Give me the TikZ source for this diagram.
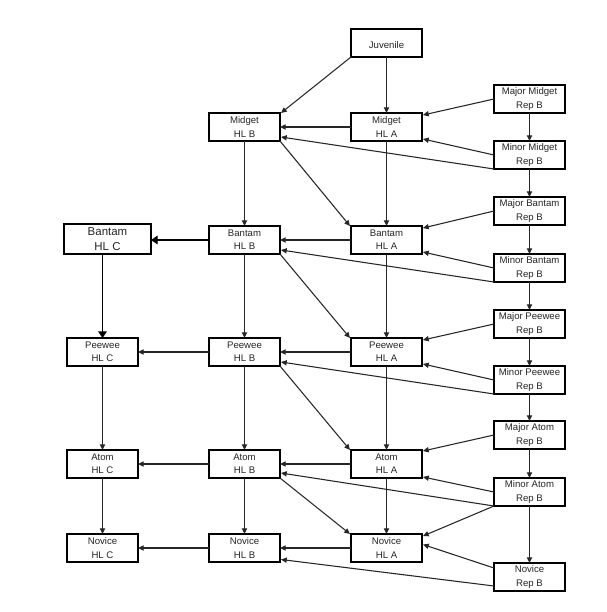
\documentclass[tikz,border=0pt]{standalone}
\usepackage{fontspec}
\setmainfont{Liberation Sans}
\usetikzlibrary{arrows.meta,calc}
\begin{document}
\begin{tikzpicture}[x=0.75pt,y=-0.75pt,
  box/.style={draw=black,line width=1.5pt,fill=white,minimum width=53.25pt,minimum height=21pt,
    inner sep=0pt,outer sep=0pt,align=center,text=black!85,font=\fontsize{7.2}{10}\selectfont,
    execute at begin node={\rule{0pt}{8.2pt}}},
  bigbox/.style={box,line width=2.2pt,minimum width=65.25pt,minimum height=22.5pt,font=\fontsize{8.6}{11.8}\selectfont},
  conn/.style={draw=black!85,line width=0.8pt,-{Triangle[length=4.3pt,width=3.9pt]}},
  hconn/.style={conn,yshift=-0.375pt},
  bigconn/.style={draw=black,line width=1pt,-{Triangle[length=5pt,width=6.5pt]}}
]
\useasboundingbox[fill=white] (0,0) rectangle (607,612);
% nodes
\node[box] (juv) at (386.5,43) {Juvenile};
\node[box] (majmid) at (529.5,99) {Major Midget\\Rep B};
\node[box] (minmid) at (529.5,155) {Minor Midget\\Rep B};
\node[box] (midB) at (244.5,127) {Midget\\HL B};
\node[box] (midA) at (386.5,127) {Midget\\HL A};
\node[box] (majban) at (529.5,211) {Major Bantam\\Rep B};
\node[box] (minban) at (529.5,268) {Minor Bantam\\Rep B};
\node[bigbox] (banC) at (107.5,239) {Bantam\\HL C};
\node[box] (banB) at (244.5,240) {Bantam\\HL B};
\node[box] (banA) at (386.5,240) {Bantam\\HL A};
\node[box] (majpee) at (529.5,324) {Major Peewee\\Rep B};
\node[box] (minpee) at (529.5,380) {Minor Peewee\\Rep B};
\node[box] (peeC) at (102.5,352) {Peewee\\HL C};
\node[box] (peeB) at (244.5,352) {Peewee\\HL B};
\node[box] (peeA) at (386.5,352) {Peewee\\HL A};
\node[box] (majatom) at (529.5,435) {Major Atom\\Rep B};
\node[box] (minatom) at (529.5,492) {Minor Atom\\Rep B};
\node[box] (atomC) at (102.5,464) {Atom\\HL C};
\node[box] (atomB) at (244.5,464) {Atom\\HL B};
\node[box] (atomA) at (386.5,464) {Atom\\HL A};
\node[box] (novC) at (102.5,548) {Novice\\HL C};
\node[box] (novB) at (244.5,548) {Novice\\HL B};
\node[box] (novA) at (386.5,548) {Novice\\HL A};
\node[box] (novR) at (529.5,577) {Novice\\Rep B};
% juvenile
\draw[conn] (juv.south west) -- ($(midB.north east)+(1,0)$);
\draw[conn] (juv) -- (midA);
% rep column verticals
\draw[conn] (majmid) -- (minmid);
\draw[conn] (minmid) -- (majban);
\draw[conn] (majban) -- (minban);
\draw[conn] (minban) -- (majpee);
\draw[conn] (majpee) -- (minpee);
\draw[conn] (minpee) -- (majatom);
\draw[conn] (majatom) -- (minatom);
\draw[conn] (minatom) -- (novR);
% rep to HL
\draw[conn] (majmid.west) -- ($(midA.north east)+(1,2)$);
\draw[conn] (minmid.west) -- ($(midA.south east)+(1,-2)$);
\draw[conn] (minmid.south west) -- ($(midB.south east)+(1,-4)$);
\draw[conn] (majban.west) -- ($(banA.north east)+(1,2)$);
\draw[conn] (minban.west) -- ($(banA.south east)+(1,-2)$);
\draw[conn] (minban.south west) -- ($(banB.south east)+(1,-4)$);
\draw[conn] (majpee.west) -- ($(peeA.north east)+(1,2)$);
\draw[conn] (minpee.west) -- ($(peeA.south east)+(1,-2)$);
\draw[conn] (minpee.south west) -- ($(peeB.south east)+(1,-4)$);
\draw[conn] (majatom.west) -- ($(atomA.north east)+(1,1)$);
\draw[conn] (minatom.west) -- ($(atomA.south east)+(1,-1)$);
\draw[conn] (minatom.south west) -- ($(atomB.south east)+(1,-5)$);
\draw[conn] (minatom.south west) -- ($(novA.north east)+(1,2)$);
\draw[conn] ($(novR.north west)+(0,5)$) -- ($(novA.east)+(1,-3.5)$);
\draw[conn] ($(novR.south west)+(0,-5)$) -- ($(novB.south east)+(1,-2.5)$);
% HL A to HL B horizontals
\draw[hconn] (midA) -- (midB);
\draw[hconn] (banA) -- (banB);
\draw[hconn] (peeA) -- (peeB);
\draw[hconn] (atomA) -- (atomB);
\draw[hconn] (novA) -- (novB);
% HL B to HL C horizontals
\draw[bigconn] (banB.west) -- (banC.east |- banB.west);
\draw[hconn] (peeB) -- (peeC);
\draw[hconn] (atomB) -- (atomC);
\draw[hconn] (novB) -- (novC);
% verticals
\draw[conn] (midB) -- (banB);
\draw[conn] (banB) -- (peeB);
\draw[conn] (peeB) -- (atomB);
\draw[conn] (atomB) -- (novB);
\draw[conn] (midA) -- (banA);
\draw[conn] (banA) -- (peeA);
\draw[conn] (peeA) -- (atomA);
\draw[conn] (atomA) -- (novA);
\draw[bigconn] (peeC.north |- banC.south) -- (peeC.north);
\draw[conn] (peeC) -- (atomC);
\draw[conn] (atomC) -- (novC);
% diagonals
\draw[conn] (midB.south east) -- ($(banA.north west)+(-1,0)$);
\draw[conn] (banB.south east) -- ($(peeA.north west)+(-1,0)$);
\draw[conn] (peeB.south east) -- ($(atomA.north west)+(-1,0)$);
\draw[conn] (atomB.south east) -- ($(novA.north west)+(-1,0)$);
\end{tikzpicture}
\end{document}
